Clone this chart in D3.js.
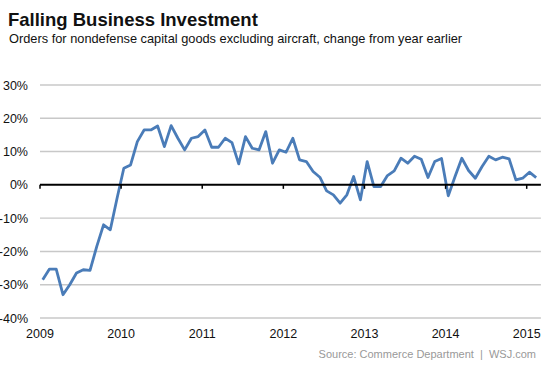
<!DOCTYPE html>
<html>
<head>
<meta charset="utf-8">
<script src="https://cdn.jsdelivr.net/npm/d3@7"></script>
<style>
  body { margin: 0; background: #fff; }
  svg { font-family: "Liberation Sans", Arial, sans-serif; }
</style>
</head>
<body>
<div id="chart"></div>
<script>
// Data: monthly YoY change, Jan 2009 - Feb 2015
const startYear = 2009;
const values = [
  -28.5, -25.3, -25.3, -33, -30, -26.5, -25.5, -25.7, -18.5, -12, -13.5, -4,
  5, 6, 13, 16.5, 16.5, 17.7, 11.5, 17.8, 14, 10.5, 14, 14.5,
  16.5, 11.3, 11.3, 14, 12.7, 6.3, 14.5, 11, 10.5, 16, 6.5, 10.5,
  9.8, 14, 7.5, 7, 4, 2.3, -1.8, -3, -5.5, -3, 2.5, -4.5,
  7, -0.5, -0.5, 2.8, 4.2, 8, 6.5, 8.6, 7.7, 2.2, 7, 7.9,
  -3.3, 2.5, 8, 4.3, 2, 5.5, 8.6, 7.5, 8.3, 7.8, 1.5, 2,
  3.8, 2.2,
];
const yTicks = [30, 20, 10, 0, -10, -20, -30, -40];
const xTickYears = [2009, 2010, 2011, 2012, 2013, 2014, 2015];

const width = 553, height = 369;
const svg = d3.select("#chart").append("svg")
  .attr("width", width).attr("height", height);

// Title
svg.append("text").attr("x", 8).attr("y", 26)
  .attr("font-size", 18.5).attr("font-weight", "bold").attr("fill", "#111")
  .text("Falling Business Investment");
svg.append("text").attr("x", 9).attr("y", 43)
  .attr("font-size", 12.8).attr("fill", "#111")
  .text("Orders for nondefense capital goods excluding aircraft, change from year earlier");

// Scales (x in months since Jan 2009)
const x = d3.scaleLinear().domain([0, 72]).range([40, 526.7]);
const y = d3.scaleLinear().domain([-40, 30]).range([318, 85]);

// Gridlines
svg.append("g").selectAll("line")
  .data(yTicks.filter((d) => d !== 0))
  .join("line")
  .attr("x1", x(0)).attr("x2", x(74.1))
  .attr("y1", (d) => y(d)).attr("y2", (d) => y(d))
  .attr("stroke", "#c8c8c8").attr("stroke-width", 1.4);

// Y labels
svg.append("g").selectAll("text")
  .data(yTicks)
  .join("text")
  .attr("x", 28).attr("y", (d) => y(d) + 4.5)
  .attr("text-anchor", "end").attr("font-size", 12.5).attr("fill", "#111")
  .text((d) => `${d}%`);

// X labels
svg.append("g").selectAll("text")
  .data(xTickYears)
  .join("text")
  .attr("x", (d) => x((d - startYear) * 12))
  .attr("y", 338)
  .attr("text-anchor", "middle").attr("font-size", 12.5).attr("fill", "#111")
  .text((d) => d);

// Line
const line = d3.line()
  .x((d, i) => x(i + 0.4))
  .y((d) => y(d));
svg.append("path")
  .datum(values)
  .attr("d", line)
  .attr("fill", "none")
  .attr("stroke", "#4a7cb8")
  .attr("stroke-width", 2.8)
  .attr("stroke-linejoin", "round");

// Zero line with year ticks
svg.append("line")
  .attr("x1", x(0)).attr("x2", x(74.1))
  .attr("y1", y(0)).attr("y2", y(0))
  .attr("stroke", "#000").attr("stroke-width", 2);
svg.append("g").selectAll("line")
  .data(xTickYears)
  .join("line")
  .attr("x1", (d) => x((d - startYear) * 12))
  .attr("x2", (d) => x((d - startYear) * 12))
  .attr("y1", y(0)).attr("y2", y(0) + 4)
  .attr("stroke", "#000").attr("stroke-width", 1.5);

// Source
svg.append("text").attr("x", 536).attr("y", 358)
  .attr("text-anchor", "end").attr("font-size", 11).attr("fill", "#999")
  .attr("xml:space", "preserve")
  .text("Source: Commerce Department  |  WSJ.com");
</script>
</body>
</html>
